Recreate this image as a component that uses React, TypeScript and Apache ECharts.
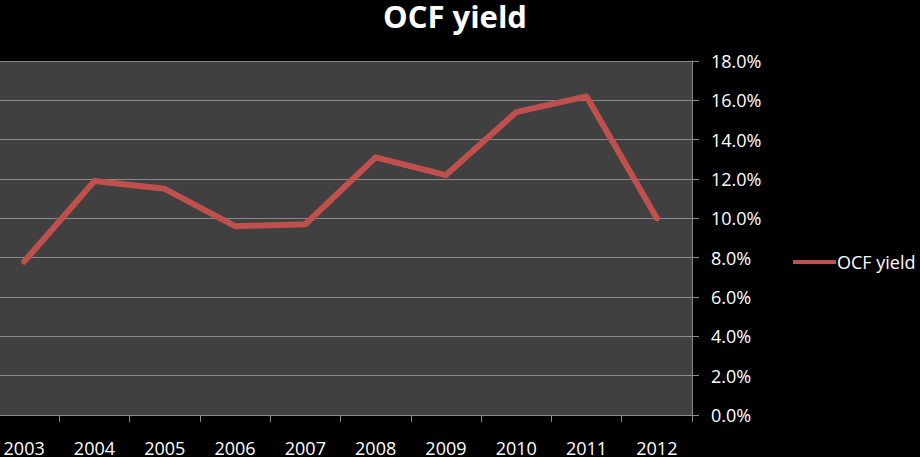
import React, { useEffect, useRef } from "react";
import * as echarts from "echarts";

const categories = ["2003", "2004", "2005", "2006", "2007", "2008", "2009", "2010", "2011", "2012"];
const ocfYield = [7.8, 11.9, 11.5, 9.6, 9.7, 13.1, 12.2, 15.4, 16.2, 10.0];
const seriesName = "OCF yield";
const titleText = "OCF yield";

const SHIFT = 11;

export default function App() {
  const ref = useRef<HTMLDivElement>(null);
  useEffect(() => {
    document.body.style.margin = "0";
    document.body.style.overflow = "hidden";
    document.body.style.background = "#000";
    const chart = echarts.init(ref.current!, null, { renderer: "svg" });
    const font = "'Open Sans', sans-serif";
    chart.setOption({
      animation: false,
      backgroundColor: "#000000",
      title: {
        text: titleText,
        left: 378 + SHIFT,
        top: -5,
        textStyle: { color: "#ffffff", fontFamily: font, fontWeight: "bold", fontSize: 31 },
      },
      legend: {
        data: [{ name: seriesName, icon: "rect" }],
        left: 793 + SHIFT,
        top: 253,
        padding: 0,
        itemWidth: 43,
        itemHeight: 4,
        textStyle: { color: "#ffffff", fontFamily: font, fontSize: 18, padding: [0, 0, 0, -4] },
      },
      grid: {
        left: 0,
        right: 228,
        top: 61,
        bottom: 40,
        show: true,
        backgroundColor: "#404040",
        borderWidth: 0,
      },
      xAxis: {
        type: "category",
        data: categories,
        boundaryGap: true,
        axisLine: { show: true, lineStyle: { color: "#8a8a8a", width: 1 } },
        axisTick: { show: true, length: 7, lineStyle: { color: "#8a8a8a" } },
        axisLabel: { color: "#ffffff", fontFamily: font, fontSize: 18, margin: 24 },
      },
      yAxis: {
        type: "value",
        position: "right",
        min: 0,
        max: 18,
        interval: 2,
        axisLine: { show: true, lineStyle: { color: "#8a8a8a", width: 1 } },
        axisTick: { show: true, length: 7, lineStyle: { color: "#8a8a8a" } },
        splitLine: { show: true, lineStyle: { color: "#8a8a8a", width: 1 } },
        axisLabel: {
          color: "#ffffff",
          fontFamily: font,
          fontSize: 18,
          margin: 19,
          formatter: (v: number) => v.toFixed(1) + "%",
        },
      },
      series: [
        {
          name: seriesName,
          type: "line",
          data: ocfYield,
          symbol: "none",
          lineStyle: { color: "#C0504D", width: 6, cap: "round", join: "round" },
          itemStyle: { color: "#C0504D" },
        },
      ],
    });
    return () => chart.dispose();
  }, []);
  return <div ref={ref} style={{ width: 920 + SHIFT, height: 457, marginLeft: -SHIFT }} />;
}
